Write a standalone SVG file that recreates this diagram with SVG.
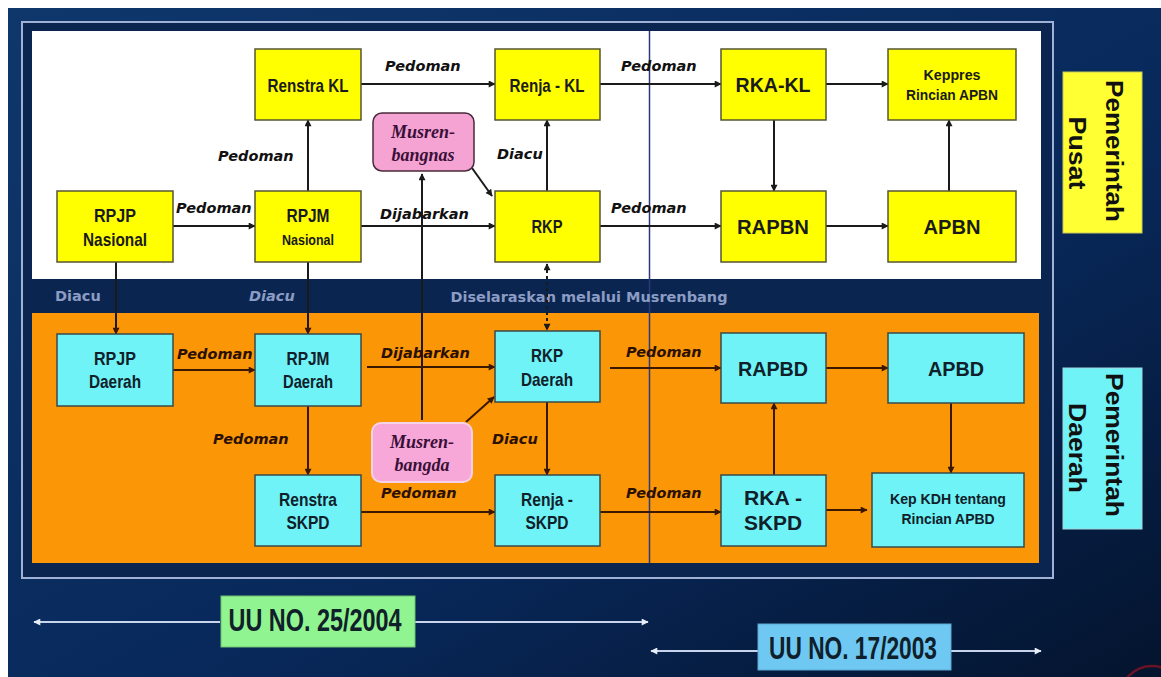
<svg xmlns="http://www.w3.org/2000/svg" width="1161" height="677" viewBox="0 0 1161 677">
<defs>
<linearGradient id="bg" x1="0" y1="0" x2="1" y2="1">
<stop offset="0" stop-color="#0f376c"/>
<stop offset="0.6" stop-color="#08285a"/>
<stop offset="1" stop-color="#04142e"/>
</linearGradient>
<marker id="ad" viewBox="0 0 10 10" refX="9" refY="5" markerWidth="9" markerHeight="7" markerUnits="userSpaceOnUse" orient="auto"><path d="M0,0 L10,5 L0,10 z" fill="#1a1a1a"/></marker>
<marker id="ab" viewBox="0 0 10 10" refX="9" refY="5" markerWidth="9" markerHeight="7" markerUnits="userSpaceOnUse" orient="auto"><path d="M0,0 L10,5 L0,10 z" fill="#3a1800"/></marker>
<marker id="aw" viewBox="0 0 10 10" refX="9" refY="5" markerWidth="9" markerHeight="7" markerUnits="userSpaceOnUse" orient="auto"><path d="M0,0 L10,5 L0,10 z" fill="#e8eef8"/></marker>
<marker id="awr" viewBox="0 0 10 10" refX="1" refY="5" markerWidth="9" markerHeight="7" markerUnits="userSpaceOnUse" orient="auto"><path d="M10,0 L0,5 L10,10 z" fill="#e8eef8"/></marker>
<marker id="adr" viewBox="0 0 10 10" refX="1" refY="5" markerWidth="9" markerHeight="7" markerUnits="userSpaceOnUse" orient="auto"><path d="M10,0 L0,5 L10,10 z" fill="#1a1a1a"/></marker>
</defs>
<style>
.yb{fill:#ffff00;stroke:#555533;stroke-width:1.5}
.cb{fill:#6ff3f6;stroke:#3a4a4a;stroke-width:1.5}
.pk{fill:#f5a3d3;stroke:#4a2a3a;stroke-width:1.5}
.pk2{fill:#f7a8d8;stroke:#f6d2e8;stroke-width:2}
.t{font-family:"Liberation Sans Narrow","Liberation Sans",Arial,sans-serif;font-weight:bold;fill:#1a1a1a;text-anchor:middle}
.tc{fill:#10202a}
.l{font-family:"DejaVu Sans",Verdana,sans-serif;font-weight:bold;font-style:italic;font-size:14.5px;fill:#111}
.lb{fill:#2a1000}
.m{font-family:"Liberation Serif","Times New Roman",serif;font-weight:bold;font-style:italic;font-size:18px;fill:#3a0f38;text-anchor:middle}
.g{font-family:"DejaVu Sans",Verdana,sans-serif;font-weight:bold;font-size:14.5px;fill:#8c9cc4}
.cd{stroke:#1a1a1a;stroke-width:2;fill:none}
.cbr{stroke:#3a1800;stroke-width:2;fill:none}
.side{font-family:"Liberation Sans",Arial,sans-serif;font-weight:bold;font-size:24px;fill:#111;text-anchor:middle}
.uu{font-family:"Liberation Sans Narrow","Liberation Sans",Arial,sans-serif;font-weight:bold;font-size:32px;fill:#10202a;text-anchor:middle}
</style>
<rect x="0" y="0" width="1161" height="677" fill="#ffffff"/>
<rect x="8" y="8" width="1153" height="669" fill="url(#bg)"/>
<circle cx="1152" cy="698" r="32" fill="none" stroke="#6a1326" stroke-width="2.5"/>
<rect x="22" y="22" width="1031" height="556" fill="#0a2650" stroke="#9fb2d6" stroke-width="2"/>
<rect x="32" y="31" width="1009" height="248" fill="#ffffff"/>
<rect x="32" y="313" width="1007" height="250" fill="#fb9606"/>
<line x1="649.5" y1="31" x2="649.5" y2="563" stroke="#2b3a7a" stroke-width="1.5"/>
<text class="g" x="55" y="301">Diacu</text>
<text class="g" x="249" y="301" font-style="italic">Diacu</text>
<text class="g" x="589" y="302" text-anchor="middle">Diselaraskan melalui Musrenbang</text>

<g id="connectors">
<line class="cd" x1="173" y1="226" x2="255" y2="226" marker-end="url(#ad)"/>
<line class="cd" x1="308" y1="191" x2="308" y2="120" marker-end="url(#ad)"/>
<line class="cd" x1="361" y1="84" x2="495" y2="84" marker-end="url(#ad)"/>
<line class="cd" x1="361" y1="226" x2="495" y2="226" marker-end="url(#ad)"/>
<line class="cd" x1="472" y1="168" x2="492" y2="196" marker-end="url(#ad)"/>
<line class="cd" x1="547" y1="191" x2="547" y2="120" marker-end="url(#ad)"/>
<line class="cd" x1="600" y1="84" x2="721" y2="84" marker-end="url(#ad)"/>
<line class="cd" x1="600" y1="226" x2="721" y2="226" marker-end="url(#ad)"/>
<line class="cd" x1="774" y1="120" x2="774" y2="191" marker-end="url(#ad)"/>
<line class="cd" x1="826" y1="84" x2="888" y2="84" marker-end="url(#ad)"/>
<line class="cd" x1="826" y1="226" x2="888" y2="226" marker-end="url(#ad)"/>
<line class="cd" x1="949" y1="191" x2="949" y2="120" marker-end="url(#ad)"/>
<line class="cd" x1="116" y1="262" x2="116" y2="334" marker-end="url(#ab)"/>
<line class="cd" x1="308" y1="262" x2="308" y2="334" marker-end="url(#ab)"/>
<line class="cd" x1="547" y1="264" x2="547" y2="330" stroke-dasharray="3,3" marker-start="url(#adr)" marker-end="url(#ad)"/>
<line class="cd" x1="422" y1="420" x2="422" y2="174" marker-end="url(#ad)"/>
<line class="cbr" x1="173" y1="370" x2="255" y2="370" marker-end="url(#ab)"/>
<line class="cbr" x1="367" y1="367" x2="495" y2="367" marker-end="url(#ab)"/>
<line class="cbr" x1="466" y1="422" x2="494" y2="397" marker-end="url(#ab)"/>
<line class="cbr" x1="308" y1="406" x2="308" y2="475" marker-end="url(#ab)"/>
<line class="cbr" x1="361" y1="512" x2="495" y2="512" marker-end="url(#ab)"/>
<line class="cbr" x1="547" y1="402" x2="547" y2="475" marker-end="url(#ab)"/>
<line class="cbr" x1="610" y1="368" x2="721" y2="368" marker-end="url(#ab)"/>
<line class="cbr" x1="600" y1="512" x2="721" y2="512" marker-end="url(#ab)"/>
<line class="cbr" x1="774" y1="475" x2="774" y2="403" marker-end="url(#ab)"/>
<line class="cbr" x1="826" y1="368" x2="888" y2="368" marker-end="url(#ab)"/>
<line class="cbr" x1="951" y1="403" x2="951" y2="473" marker-end="url(#ab)"/>
<line class="cbr" x1="826" y1="510" x2="867" y2="510" marker-end="url(#ab)"/>
<line x1="34" y1="622" x2="220" y2="622" stroke="#c8d4ec" stroke-width="2" marker-start="url(#awr)"/>
<line x1="415" y1="622" x2="648" y2="622" stroke="#c8d4ec" stroke-width="2" marker-end="url(#aw)"/>
<line x1="651" y1="651" x2="758" y2="651" stroke="#c8d4ec" stroke-width="2" marker-start="url(#awr)"/>
<line x1="951" y1="651" x2="1041" y2="651" stroke="#c8d4ec" stroke-width="2" marker-end="url(#aw)"/>
</g>

<g id="labels">
<text class="l" x="176" y="213">Pedoman</text>
<text class="l" x="218" y="161">Pedoman</text>
<text class="l" x="385" y="71">Pedoman</text>
<text class="l" x="380" y="219">Dijabarkan</text>
<text class="l" x="497" y="159">Diacu</text>
<text class="l" x="621" y="71">Pedoman</text>
<text class="l" x="611" y="213">Pedoman</text>
<text class="l lb" x="177" y="359">Pedoman</text>
<text class="l lb" x="381" y="358">Dijabarkan</text>
<text class="l lb" x="213" y="444">Pedoman</text>
<text class="l lb" x="381" y="498">Pedoman</text>
<text class="l lb" x="492" y="444">Diacu</text>
<text class="l lb" x="626" y="357">Pedoman</text>
<text class="l lb" x="626" y="498">Pedoman</text>
</g>

<g id="renstra-kl"><rect class="yb" x="255" y="49" width="106" height="71"/><text class="t" x="308" y="92" font-size="19" textLength="81" lengthAdjust="spacingAndGlyphs">Renstra KL</text></g>
<g id="rpjp-nasional"><rect class="yb" x="57" y="191" width="116" height="71"/><text class="t" x="115" y="222" font-size="19" textLength="42" lengthAdjust="spacingAndGlyphs">RPJP</text><text class="t" x="115" y="246" font-size="19" textLength="64" lengthAdjust="spacingAndGlyphs">Nasional</text></g>
<g id="rpjm-nasional"><rect class="yb" x="255" y="191" width="106" height="71"/><text class="t" x="308" y="222" font-size="19" textLength="43" lengthAdjust="spacingAndGlyphs">RPJM</text><text class="t" x="308" y="245" font-size="14" textLength="52" lengthAdjust="spacingAndGlyphs">Nasional</text></g>
<g id="renja-kl"><rect class="yb" x="495" y="49" width="105" height="71"/><text class="t" x="547" y="92" font-size="19" textLength="75" lengthAdjust="spacingAndGlyphs">Renja - KL</text></g>
<g id="rkp"><rect class="yb" x="495" y="191" width="105" height="71"/><text class="t" x="547" y="233" font-size="19" textLength="31" lengthAdjust="spacingAndGlyphs">RKP</text></g>
<g id="rka-kl"><rect class="yb" x="721" y="49" width="105" height="71"/><text class="t" x="773" y="92" font-size="20" textLength="75" lengthAdjust="spacingAndGlyphs">RKA-KL</text></g>
<g id="rapbn"><rect class="yb" x="721" y="191" width="105" height="71"/><text class="t" x="773" y="234" font-size="20" textLength="72" lengthAdjust="spacingAndGlyphs">RAPBN</text></g>
<g id="keppres"><rect class="yb" x="888" y="49" width="128" height="71"/><text class="t" x="952" y="80" font-size="15" textLength="57" lengthAdjust="spacingAndGlyphs">Keppres</text><text class="t" x="952" y="100" font-size="15" textLength="92" lengthAdjust="spacingAndGlyphs">Rincian APBN</text></g>
<g id="apbn"><rect class="yb" x="888" y="191" width="128" height="71"/><text class="t" x="952" y="234" font-size="20" textLength="57" lengthAdjust="spacingAndGlyphs">APBN</text></g>
<g id="musrenbangnas"><rect class="pk" x="373" y="113" width="101" height="58" rx="9"/><text class="m" x="423" y="138">Musren-</text><text class="m" x="423" y="161">bangnas</text></g>

<g id="rpjp-daerah"><rect class="cb" x="57" y="334" width="116" height="72"/><text class="t tc" x="115" y="365" font-size="19" textLength="42" lengthAdjust="spacingAndGlyphs">RPJP</text><text class="t tc" x="115" y="388" font-size="19" textLength="52" lengthAdjust="spacingAndGlyphs">Daerah</text></g>
<g id="rpjm-daerah"><rect class="cb" x="255" y="334" width="106" height="72"/><text class="t tc" x="308" y="365" font-size="19" textLength="43" lengthAdjust="spacingAndGlyphs">RPJM</text><text class="t tc" x="308" y="388" font-size="19" textLength="50" lengthAdjust="spacingAndGlyphs">Daerah</text></g>
<g id="renstra-skpd"><rect class="cb" x="255" y="475" width="106" height="71"/><text class="t tc" x="308" y="506" font-size="19" textLength="58" lengthAdjust="spacingAndGlyphs">Renstra</text><text class="t tc" x="308" y="529" font-size="19" textLength="43" lengthAdjust="spacingAndGlyphs">SKPD</text></g>
<g id="rkp-daerah"><rect class="cb" x="495" y="331" width="105" height="71"/><text class="t tc" x="547" y="362" font-size="19" textLength="32" lengthAdjust="spacingAndGlyphs">RKP</text><text class="t tc" x="547" y="386" font-size="19" textLength="52" lengthAdjust="spacingAndGlyphs">Daerah</text></g>
<g id="renja-skpd"><rect class="cb" x="495" y="475" width="105" height="71"/><text class="t tc" x="547" y="506" font-size="19" textLength="52" lengthAdjust="spacingAndGlyphs">Renja -</text><text class="t tc" x="547" y="529" font-size="19" textLength="43" lengthAdjust="spacingAndGlyphs">SKPD</text></g>
<g id="rapbd"><rect class="cb" x="721" y="333" width="105" height="70"/><text class="t tc" x="773" y="376" font-size="20" textLength="70" lengthAdjust="spacingAndGlyphs">RAPBD</text></g>
<g id="apbd"><rect class="cb" x="888" y="333" width="136" height="70"/><text class="t tc" x="956" y="376" font-size="20" textLength="56" lengthAdjust="spacingAndGlyphs">APBD</text></g>
<g id="rka-skpd"><rect class="cb" x="721" y="475" width="105" height="71"/><text class="t tc" x="773" y="505" font-size="21" textLength="58" lengthAdjust="spacingAndGlyphs">RKA -</text><text class="t tc" x="773" y="530" font-size="21" textLength="58" lengthAdjust="spacingAndGlyphs">SKPD</text></g>
<g id="kep-kdh"><rect class="cb" x="872" y="473" width="152" height="74"/><text class="t tc" x="948" y="504" font-size="15" textLength="116" lengthAdjust="spacingAndGlyphs">Kep KDH tentang</text><text class="t tc" x="948" y="524" font-size="15" textLength="93" lengthAdjust="spacingAndGlyphs">Rincian APBD</text></g>
<g id="musrenbangda"><rect class="pk2" x="372" y="423" width="100" height="59" rx="9"/><text class="m" x="422" y="448">Musren-</text><text class="m" x="422" y="471">bangda</text></g>

<g id="pemerintah-pusat"><rect x="1063" y="72" width="79" height="161" fill="#ffff33" stroke="#c8c860" stroke-width="1"/><text class="side" transform="translate(1106,151) rotate(90)" textLength="142" lengthAdjust="spacingAndGlyphs">Pemerintah</text><text class="side" transform="translate(1069,153) rotate(90)" textLength="73" lengthAdjust="spacingAndGlyphs">Pusat</text></g>
<g id="pemerintah-daerah"><rect x="1063" y="368" width="79" height="161" fill="#6ff3f6" stroke="#a0d8e0" stroke-width="1"/><text class="side" transform="translate(1106,445) rotate(90)" textLength="144" lengthAdjust="spacingAndGlyphs">Pemerintah</text><text class="side" transform="translate(1069,448) rotate(90)" textLength="90" lengthAdjust="spacingAndGlyphs">Daerah</text></g>
<g id="uu-25-2004"><rect x="221" y="596" width="194" height="51" fill="#90f590" stroke="#6ec06e" stroke-width="1"/><text class="uu" x="315" y="631" textLength="173" lengthAdjust="spacingAndGlyphs">UU NO. 25/2004</text></g>
<g id="uu-17-2003"><rect x="758" y="624" width="193" height="46" fill="#6ec8f2" stroke="#5aa8d0" stroke-width="1"/><text class="uu" x="853" y="659" textLength="168" lengthAdjust="spacingAndGlyphs">UU NO. 17/2003</text></g>
</svg>
